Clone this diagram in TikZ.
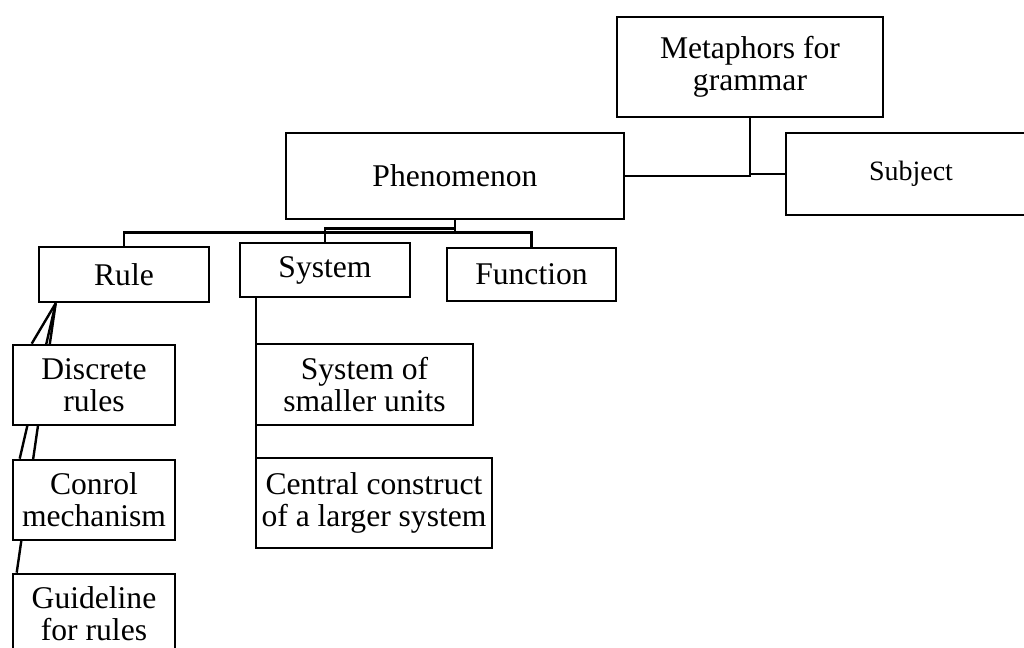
\documentclass[tikz,border=0pt]{standalone}
\usepackage{fontspec}
\setmainfont{Liberation Serif}
\usetikzlibrary{backgrounds}
\tikzset{
  chart box/.style={
    draw,
    fill=white,
    line width=1.3pt,
    align=center,
    inner sep=0pt,
    font=\fontsize{15.8}{16}\selectfont
  },
  chart line/.style={line width=1.2pt}
}

\begin{document}
\begin{tikzpicture}[x=0.5pt,y=-0.5pt]
\useasboundingbox (0,0) rectangle (1024,648);
\node[chart box,minimum width=133pt,minimum height=50pt] (meta) at (750,67) {Metaphors for\\grammar};
\node[chart box,minimum width=169pt,minimum height=43pt] (phen) at (455,176) {Phenomenon};
\node[chart box,minimum width=125pt,minimum height=41pt,font=\fontsize{14}{15}\selectfont] (subj) at (911,174) {Subject};
\node[chart box,minimum width=85pt,minimum height=27.5pt] (rule) at (124,274.5) {Rule};
\node[chart box,minimum width=85pt,minimum height=27pt] (system) at (325,270) {System};
\node[chart box,minimum width=84.5pt,minimum height=26.5pt] (func) at (531.5,274.5) {Function};
\node[chart box,minimum width=81pt,minimum height=40pt] (disc) at (94,385) {Discrete\\rules};
\node[chart box,minimum width=81pt,minimum height=40pt] (conrol) at (94,500) {Conrol\\mechanism};
\node[chart box,minimum width=81pt,minimum height=40pt] (guide) at (94,614) {Guideline\\for rules};
\node[chart box,minimum width=108.5pt,minimum height=40.5pt] (sysu) at (364.5,384.5) {System of\\smaller units};
\node[chart box,minimum width=118pt,minimum height=45pt] (central) at (374,503) {Central construct\\of a larger system};
\begin{scope}[on background layer]
\begin{scope}[chart line]
% top level
\draw (meta.south) |- (phen.east);
\draw (meta.south) |- (subj.west);
% phenomenon
\draw (phen.south) -- ++(0,8) -| (system.north);
\draw (phen.south) -- ++(0,12) -| (rule.north);
\draw (phen.south) -- ++(0,12) -| (func.north);
% system
\draw (system.south west) ++(17,0) coordinate (sysfoot) -- (sysfoot |- sysu.north);
\draw (sysfoot) -- (sysfoot |- central.north);
% rule
\draw (rule.south west) ++(18,0) coordinate (rulefoot) -- ([xshift=10pt]disc.north west);
\draw (rulefoot) -- ([xshift=4pt]conrol.north west);
\draw (rulefoot) -- ([xshift=2.5pt]guide.north west);
\end{scope}
\end{scope}
\end{tikzpicture}
\end{document}
